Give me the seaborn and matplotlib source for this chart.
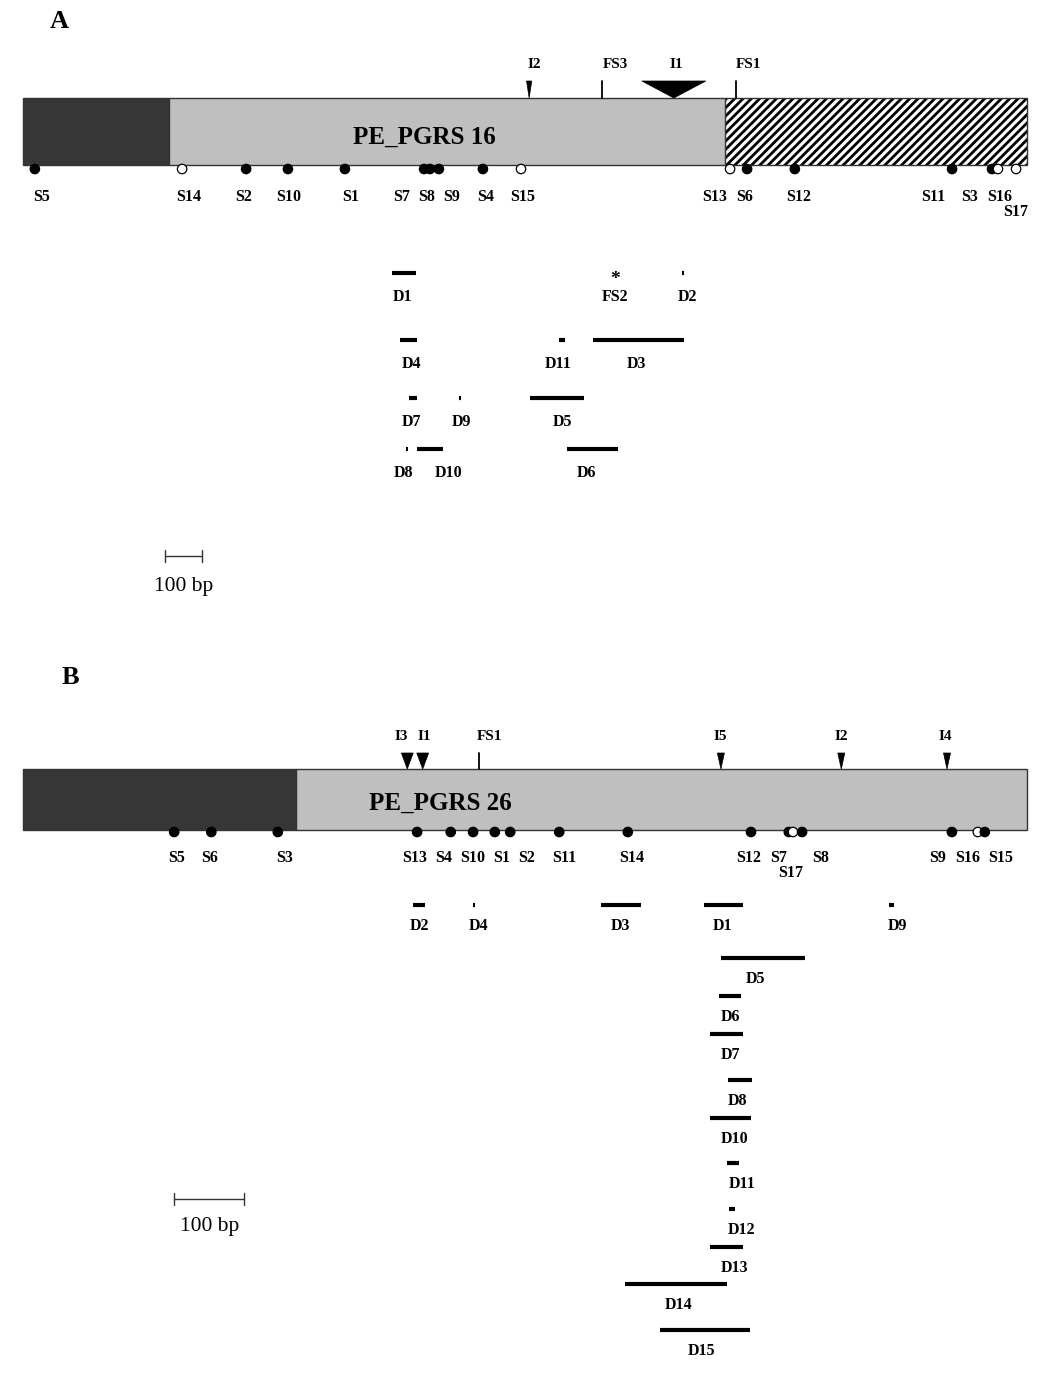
import matplotlib
matplotlib.use("Agg")
import matplotlib.pyplot as plt
import seaborn as sns
import pandas as pd
from matplotlib.patches import Rectangle, Polygon

sns.set_theme(style="white")
plt.rcParams['font.family'] = ['Liberation Serif', 'DejaVu Serif']
plt.rcParams['hatch.linewidth'] = 2.0
plt.rcParams['text.color'] = 'black'

# ---------------- Panel A data (bp) ----------------
A_gene_len = 2714
A_pe_end = 395
A_hatch_start = 1897
A_gene_name = "PE_PGRS 16"
A_name_pos = 1086

A_top_labels = ["I2", "FS3", "I1", "FS1"]
A_top_pos = [1368, 1565, 1759, 1927]
A_top_kind = ["ins", "fs", "ins", "fs"]
A_top_width = [14, 0, 173, 0]
A_top_label_pos = [1381, 1600, 1765, 1962]

A_snp_names = ["S5", "S14", "S2", "S10", "S1", "S7", "S8", "S9", "S4", "S15",
               "S13", "S6", "S12", "S11", "S3", "S16", "S17"]
A_snp_pos = [32, 430, 603, 716, 870, 1084, 1100, 1124, 1243, 1346,
             1911, 1957, 2086, 2511, 2619, 2635, 2684]
A_snp_fill = ["filled", "open", "filled", "filled", "filled", "filled", "filled",
              "filled", "filled", "open", "open", "filled", "filled", "filled",
              "filled", "open", "open"]
A_snp_label_pos = [51, 449, 595, 719, 886, 1024, 1092, 1159, 1249, 1351,
                   1870, 1951, 2097, 2459, 2559, 2641, 2684]
A_snp_label_row = [0] * 16 + [1]

A_del_names = ["D1", "D2", "D4", "D11", "D3", "D7", "D9", "D5", "D8", "D10", "D6"]
A_del_start = [997, 1781, 1019, 1449, 1541, 1043, 1178, 1370, 1035, 1065, 1470]
A_del_end = [1062, 1786, 1065, 1465, 1786, 1065, 1184, 1516, 1041, 1135, 1608]
A_del_row = [0, 0, 1, 1, 1, 2, 2, 2, 3, 3, 3]
A_del_label_pos = [1027, 1795, 1051, 1446, 1659, 1051, 1184, 1457, 1027, 1151, 1524]
A_fs2_pos = 1600

# ---------------- Panel B data (bp) ----------------
B_gene_len = 1434
B_pe_end = 390
B_gene_name = "PE_PGRS 26"
B_name_pos = 596

B_top_labels = ["I3", "I1", "FS1", "I5", "I2", "I4"]
B_top_pos = [549, 571, 651, 997, 1169, 1320]
B_top_kind = ["ins", "ins", "fs", "ins", "ins", "ins"]
B_top_width = [17, 17, 0, 10, 10, 10]
B_top_label_pos = [541, 574, 667, 996, 1169, 1317]

B_snp_names = ["S5", "S6", "S3", "S13", "S4", "S10", "S1", "S2", "S11", "S14",
               "S12", "S7", "S17", "S8", "S9", "S16", "S15"]
B_snp_pos = [216, 269, 364, 563, 611, 643, 674, 696, 766, 864,
             1040, 1094, 1100, 1113, 1327, 1364, 1374]
B_snp_fill = ["filled"] * 12 + ["open", "filled", "filled", "open", "filled"]
B_snp_label_pos = [219, 267, 374, 559, 601, 643, 684, 720, 774, 870,
                   1037, 1080, 1097, 1139, 1306, 1349, 1396]
B_snp_label_row = [0] * 12 + [1] + [0] * 4

B_del_names = ["D2", "D4", "D3", "D1", "D9", "D5", "D6", "D7", "D8", "D10",
               "D11", "D12", "D13", "D14", "D15"]
B_del_start = [557, 643, 826, 973, 1237, 997, 994, 981, 1007, 981, 1006, 1009, 981, 860, 910]
B_del_end = [574, 646, 883, 1029, 1244, 1117, 1026, 1029, 1041, 1040, 1023, 1017, 1029, 1006, 1039]
B_del_row = [0, 0, 0, 0, 0, 1, 2, 3, 4, 5, 6, 7, 8, 9, 10]
B_del_label_pos = [567, 651, 854, 999, 1249, 1046, 1010, 1010, 1021, 1017, 1027, 1027, 1016, 936, 969]

SCALE_BP = 100

# ---------------- layout (pixels) ----------------
W, H = 1050, 1389
fig = plt.figure(figsize=(W / 100, H / 100), dpi=100)

BOLD = dict(fontweight="bold", ha="center", va="center", color="black")
LAB_FS = 11.5


def make_axes(px_per_bp):
    ax = fig.add_axes([0, 0, 1, 1])
    ax.set_xlim(-23 / px_per_bp, (W - 23) / px_per_bp)
    ax.set_ylim(H, 0)
    ax.axis("off")
    ax.patch.set_alpha(0)
    return ax


def draw_panel(ax, px_per_bp, gene_len, pe_end, hatch_start, name, name_pos, name_y,
               box_top, box_bot, top_labels, top_pos, top_kind, top_width,
               top_label_pos, top_label_y, marker_top,
               snp_names, snp_pos, snp_fill, snp_label_pos, snp_label_row,
               snp_y, snp_label_y, del_names, del_start, del_end, del_row,
               del_label_pos, del_rows_y, del_label_dy, scale_x, scale_y, scale_label_y):
    h = box_bot - box_top
    ax.add_patch(Rectangle((0, box_top), pe_end, h, facecolor="#363636", edgecolor="none", zorder=1))
    end_gray = hatch_start if hatch_start is not None else gene_len
    ax.add_patch(Rectangle((pe_end, box_top), end_gray - pe_end, h, facecolor="#bfbfbf",
                           edgecolor="none", zorder=1))
    if hatch_start is not None:
        ax.add_patch(Rectangle((hatch_start, box_top), gene_len - hatch_start, h,
                               facecolor="white", edgecolor="black", hatch="////", lw=0.0, zorder=1))
        ax.plot([hatch_start, hatch_start], [box_top, box_bot], color="#333333", lw=1, zorder=2)
    ax.plot([pe_end, pe_end], [box_top, box_bot], color="#333333", lw=1, zorder=2)
    ax.add_patch(Rectangle((0, box_top), gene_len, h, facecolor="none",
                           edgecolor="#333333", lw=1.0, zorder=3))
    ax.text(name_pos, name_y, name, fontsize=18, **BOLD, zorder=4)

    # top markers
    for lab, p, k, wdt, lp in zip(top_labels, top_pos, top_kind, top_width, top_label_pos):
        if k == "ins":
            ax.add_patch(Polygon([(p - wdt / 2, marker_top), (p + wdt / 2, marker_top), (p, box_top)],
                                 closed=True, facecolor="black", edgecolor="black", lw=0.5, zorder=4))
        else:
            ax.plot([p, p], [marker_top, box_top], color="black", lw=1.3, zorder=4)
        ax.text(lp, top_label_y, lab, fontsize=11, **BOLD)

    # SNPs
    df = pd.DataFrame({"pos": snp_pos, "y": [snp_y] * len(snp_pos), "fill": snp_fill})
    sns.scatterplot(data=df, x="pos", y="y", hue="fill",
                    palette={"filled": "black", "open": "white"},
                    edgecolor="black", linewidth=0.9, s=46, legend=False, ax=ax, zorder=5)
    for n, lp, r in zip(snp_names, snp_label_pos, snp_label_row):
        ax.text(lp, snp_label_y + 15 * r, n, fontsize=LAB_FS, **BOLD)

    # deletions
    ys = [del_rows_y[r] for r in del_row]
    ax.hlines(ys, del_start, del_end, colors="black", lw=3.0, capstyle="butt", zorder=4)
    for n, lp, y in zip(del_names, del_label_pos, ys):
        ax.text(lp, y + del_label_dy, n, fontsize=LAB_FS, **BOLD)

    # scale bar
    ax.plot([scale_x, scale_x + SCALE_BP], [scale_y, scale_y], color="#333333", lw=1)
    for xx in (scale_x, scale_x + SCALE_BP):
        ax.plot([xx, xx], [scale_y - 6, scale_y + 6], color="#333333", lw=1)
    ax.text(scale_x + SCALE_BP / 2, scale_label_y, f"{SCALE_BP} bp", fontsize=15.5,
            ha="center", va="center", color="black")


axA = make_axes(0.37)
draw_panel(axA, 0.37, A_gene_len, A_pe_end, A_hatch_start, A_gene_name, A_name_pos, 137,
           98, 165, A_top_labels, A_top_pos, A_top_kind, A_top_width, A_top_label_pos,
           64, 81, A_snp_names, A_snp_pos, A_snp_fill, A_snp_label_pos, A_snp_label_row,
           169, 197, A_del_names, A_del_start, A_del_end, A_del_row, A_del_label_pos,
           [273, 340, 398, 449], 24, 384, 556, 587)
axA.text(A_fs2_pos, 279, "*", fontsize=14, **BOLD)
axA.text(A_fs2_pos, 297, "FS2", fontsize=LAB_FS, **BOLD)

axB = make_axes(0.70)
draw_panel(axB, 0.70, B_gene_len, B_pe_end, None, B_gene_name, B_name_pos, 803,
           769, 830, B_top_labels, B_top_pos, B_top_kind, B_top_width, B_top_label_pos,
           737, 753, B_snp_names, B_snp_pos, B_snp_fill, B_snp_label_pos, B_snp_label_row,
           832, 858, B_del_names, B_del_start, B_del_end, B_del_row, B_del_label_pos,
           [905, 958, 996, 1034, 1080, 1118, 1163, 1209, 1247, 1284, 1330], 21, 216, 1199, 1227)

fig.text(59 / W, 1 - 22 / H, "A", fontsize=19, fontweight="bold", ha="center", va="center",
         color="black")
fig.text(70 / W, 1 - 677 / H, "B", fontsize=19, fontweight="bold", ha="center", va="center",
         color="black")

fig.savefig("out.png", dpi=100, facecolor="white")
